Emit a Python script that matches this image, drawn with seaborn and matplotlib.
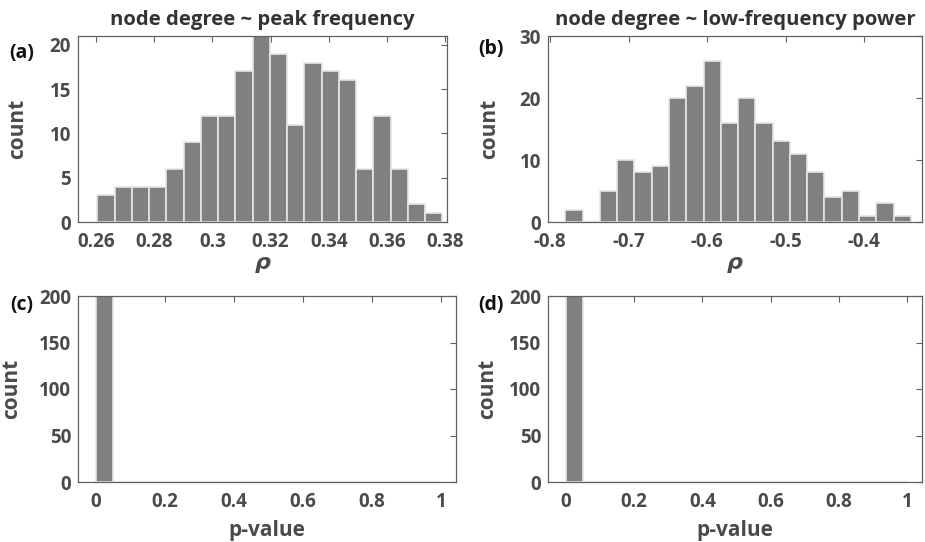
import numpy as np
import pandas as pd
import matplotlib
matplotlib.use("Agg")
import matplotlib.pyplot as plt
import seaborn as sns
from matplotlib.ticker import FuncFormatter

# ---- data ----
# (a) rho: node degree ~ peak frequency
a_counts = [3, 4, 4, 4, 6, 9, 12, 12, 17, 21, 19, 11, 18, 17, 16, 6, 12, 6, 2, 1]
a_start = 0.2605
a_width = 0.005925
# (b) rho: node degree ~ low-frequency power
b_counts = [2, 0, 5, 10, 8, 9, 20, 22, 26, 16, 20, 16, 13, 11, 8, 4, 5, 1, 3, 1]
b_start = -0.7807
b_width = 0.02202
# (c), (d) p-values
c_counts = [200] + [0] * 19
d_counts = [200] + [0] * 19
p_start = 0.0
p_width = 0.05

titles = ["node degree ~ peak frequency", "node degree ~ low-frequency power"]
panel_labels = ["(a)", "(b)", "(c)", "(d)"]
a_xticks = [0.26, 0.28, 0.30, 0.32, 0.34, 0.36, 0.38]
a_yticks = [0, 5, 10, 15, 20]
b_xticks = [-0.8, -0.7, -0.6, -0.5, -0.4]
b_yticks = [0, 10, 20, 30]
p_xticks = [0, 0.2, 0.4, 0.6, 0.8, 1.0]
p_yticks = [0, 50, 100, 150, 200]

sns.set_style("white")
plt.rcParams['font.family'] = ['Open Sans', 'DejaVu Sans']
plt.rcParams['font.weight'] = 'bold'

TXT = "#4a4a4a"
BAR = "#808080"
EDGE = "#e6e6e6"
SPINE = "#606060"

fig = plt.figure(figsize=(9.25, 5.42), dpi=100)
W, H = 925, 542

def ax_at(l, t, r, b):
    return fig.add_axes([l / W, 1 - b / H, (r - l) / W, (b - t) / H])

axes = [ax_at(78, 36, 447, 222), ax_at(548, 36, 922, 222),
        ax_at(78, 296, 456, 482), ax_at(548, 296, 922, 482)]

def hist(ax, counts, start, width):
    n = len(counts)
    centers = start + width * (np.arange(n) + 0.5)
    df = pd.DataFrame({"x": centers, "w": np.asarray(counts, dtype=float)})
    sns.histplot(data=df, x="x", weights="w", binwidth=width,
                 binrange=(start, start + n * width), ax=ax,
                 color=BAR, alpha=1.0, edgecolor=EDGE, linewidth=1.2)

hist(axes[0], a_counts, a_start, a_width)
hist(axes[1], b_counts, b_start, b_width)
hist(axes[2], c_counts, p_start, p_width)
hist(axes[3], d_counts, p_start, p_width)

fmt = FuncFormatter(lambda v, p: "%g" % round(v, 6))

cfg = [
    (0.2538, 0.3806, 0, 21, a_xticks, a_yticks, r"$\rho$"),
    (-0.8028, -0.326, 0, 30, b_xticks, b_yticks, r"$\rho$"),
    (-0.052, 1.043, 0, 200, p_xticks, p_yticks, "p-value"),
    (-0.052, 1.043, 0, 200, p_xticks, p_yticks, "p-value"),
]
ylab_x = [-0.135, -0.128, -0.148, -0.134]
xlab_y = [-0.17, -0.17, -0.205, -0.205]
plab_x = [-0.152, -0.152, -0.148, -0.152]
plab_y = [0.91, 0.93, 0.95, 0.95]

for i, (ax, (x0, x1, y0, y1, xt, yt, xl)) in enumerate(zip(axes, cfg)):
    ax.set_xlim(x0, x1)
    ax.set_ylim(y0, y1)
    ax.set_xticks(xt)
    ax.set_yticks(yt)
    ax.xaxis.set_major_formatter(fmt)
    ax.yaxis.set_major_formatter(fmt)
    ax.tick_params(direction="in", length=4, width=0.8, color=SPINE,
                   top=True, right=True, labelsize=13.5, labelcolor=TXT)
    ax.tick_params(axis="x", pad=7.5)
    ax.tick_params(axis="y", pad=5)
    for lab in ax.get_xticklabels() + ax.get_yticklabels():
        lab.set_fontweight("bold")
    for s in ax.spines.values():
        s.set_visible(True)
        s.set_color(SPINE)
        s.set_linewidth(0.9)
    ax.set_ylabel("count", fontsize=15, fontweight="bold", color=TXT)
    ax.yaxis.set_label_coords(ylab_x[i], 0.5)
    if xl.startswith("$"):
        ax.set_xlabel(xl, fontsize=16, color=TXT)
    else:
        ax.set_xlabel(xl, fontsize=15, fontweight="bold", color=TXT)
    ax.xaxis.set_label_coords(0.5, xlab_y[i])
    ax.text(plab_x[i], plab_y[i], panel_labels[i], transform=ax.transAxes,
            fontsize=14, fontweight="bold", color="#111111", ha="center", va="center")
    ax.grid(False)

axes[0].set_title(titles[0], fontsize=14.6, fontweight="bold", color="#333333", pad=8)
axes[1].set_title(titles[1], fontsize=14.6, fontweight="bold", color="#333333", pad=8)

fig.savefig("out.png", dpi=100)
